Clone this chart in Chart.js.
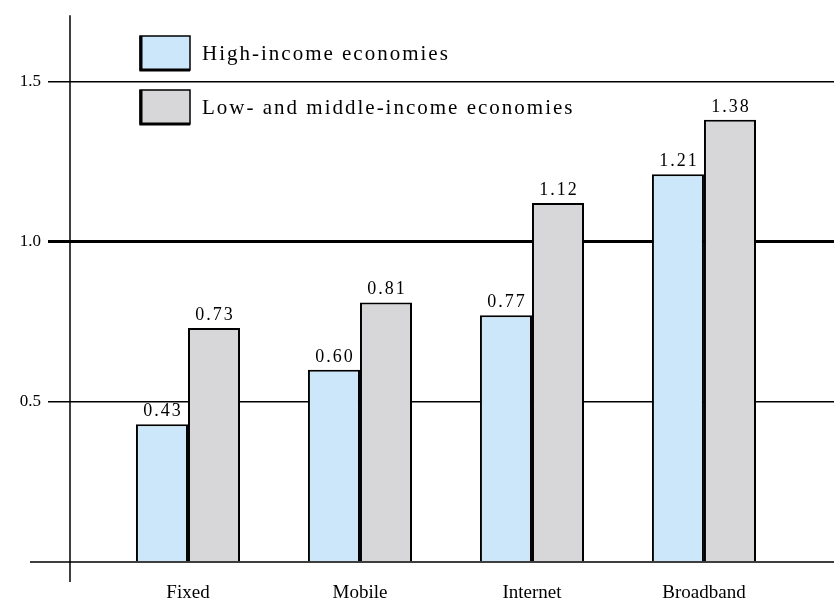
<!DOCTYPE html>
<html>
<head>
<meta charset="utf-8">
<script src="https://cdn.jsdelivr.net/npm/chart.js@4.4.1/dist/chart.umd.min.js"></script>
<style>
  html, body { margin: 0; padding: 0; background: #fff; }
  #wrap { width: 834px; height: 604px; position: relative; }
</style>
</head>
<body>
<div id="wrap"><canvas id="chart" width="834" height="604"></canvas></div>
<script>
// chart values
const categories = ['Fixed', 'Mobile', 'Internet', 'Broadband'];
const highIncome = [0.43, 0.60, 0.77, 1.21];
const lowMiddleIncome = [0.73, 0.81, 1.12, 1.38];
const seriesNames = ['High-income economies', 'Low- and middle-income economies'];
const yTicks = [0.5, 1.0, 1.5];

const BLUE = '#cbe7f9';
const GREY = '#d7d7d9';
const SERIF = '"Liberation Serif", "DejaVu Serif", serif';

// draw axis lines that reach past the plot edges, like the original
const axisLines = {
  id: 'axisLines',
  afterDatasetsDraw(chart) {
    const { ctx, chartArea } = chart;
    ctx.save();
    ctx.strokeStyle = '#000';
    ctx.lineWidth = 1.5;
    ctx.beginPath();
    ctx.moveTo(chartArea.left, chartArea.top - 2);
    ctx.lineTo(chartArea.left, chartArea.bottom + 20);
    ctx.moveTo(chartArea.left - 40, chartArea.bottom);
    ctx.lineTo(chartArea.right, chartArea.bottom);
    ctx.stroke();
    ctx.restore();
  }
};

// value labels above each bar
const valueLabels = {
  id: 'valueLabels',
  afterDatasetsDraw(chart) {
    const { ctx } = chart;
    ctx.save();
    ctx.font = '18px ' + SERIF;
    ctx.letterSpacing = '2px';
    ctx.fillStyle = '#000';
    ctx.textAlign = 'center';
    ctx.textBaseline = 'alphabetic';
    chart.data.datasets.forEach((ds, i) => {
      chart.getDatasetMeta(i).data.forEach((bar, j) => {
        ctx.fillText(ds.data[j].y.toFixed(2), bar.x + 1, bar.y - 8);
      });
    });
    ctx.restore();
  }
};

// legend drawn inside the plot, top left
const innerLegend = {
  id: 'innerLegend',
  afterDraw(chart) {
    const { ctx } = chart;
    ctx.save();
    chart.data.datasets.forEach((ds, i) => {
      const x = 140, y = 36 + i * 54;
      ctx.fillStyle = ds.backgroundColor;
      ctx.fillRect(x, y, 50, 34);
      ctx.strokeStyle = '#000';
      ctx.lineWidth = 1.5;
      ctx.strokeRect(x, y, 50, 34);
      ctx.lineWidth = 3;
      ctx.beginPath();
      ctx.moveTo(x + 1, y);
      ctx.lineTo(x + 1, y + 34);
      ctx.lineTo(x + 50, y + 34);
      ctx.stroke();
      ctx.fillStyle = '#000';
      ctx.font = '21px ' + SERIF;
      ctx.letterSpacing = '2px';
      ctx.textBaseline = 'middle';
      ctx.textAlign = 'left';
      ctx.fillText(ds.label, x + 62, y + 18);
    });
    ctx.restore();
  }
};

new Chart(document.getElementById('chart'), {
  type: 'bar',
  data: {
    datasets: [
      {
        label: seriesNames[0],
        data: highIncome.map((v, i) => ({ x: i, y: v })),
        backgroundColor: BLUE,
        borderColor: '#000',
        borderWidth: 2,
        categoryPercentage: 0.605,
        barPercentage: 1.0
      },
      {
        label: seriesNames[1],
        data: lowMiddleIncome.map((v, i) => ({ x: i, y: v })),
        backgroundColor: GREY,
        borderColor: '#000',
        borderWidth: 2,
        categoryPercentage: 0.605,
        barPercentage: 1.0
      }
    ]
  },
  options: {
    responsive: false,
    animation: false,
    layout: { padding: { top: 16, right: 0, left: 0, bottom: 0 } },
    scales: {
      x: {
        type: 'linear',
        offset: false,
        min: -0.686,
        max: 3.756,
        afterBuildTicks: (scale) => { scale.ticks = categories.map((c, i) => ({ value: i })); },
        afterFit: (scale) => { scale.height = 42; },
        grid: { display: false, offset: false },
        border: { display: false },
        ticks: {
          callback: (v) => categories[v] ?? '',
          color: '#000',
          font: { family: SERIF, size: 19 },
          padding: 12,
          maxRotation: 0,
          autoSkip: false
        }
      },
      y: {
        min: 0,
        max: 1.7,
        afterBuildTicks: (scale) => { scale.ticks = [0].concat(yTicks).map(v => ({ value: v })); },
        afterFit: (scale) => { scale.width = 70; },
        border: { display: false },
        grid: {
          color: (c) => (c.tick && c.tick.value === 0) ? 'rgba(0,0,0,0)' : '#000',
          lineWidth: (c) => (c.tick && c.tick.value === 1) ? 3 : 1.5,
          tickLength: 22,
          drawTicks: true
        },
        ticks: {
          callback: (v) => v === 0 ? '' : v.toFixed(1),
          color: '#000',
          font: { family: SERIF, size: 17 },
          padding: 7
        }
      }
    },
    plugins: {
      legend: { display: false },
      tooltip: { enabled: false }
    }
  },
  plugins: [axisLines, valueLabels, innerLegend]
});
</script>
</body>
</html>
